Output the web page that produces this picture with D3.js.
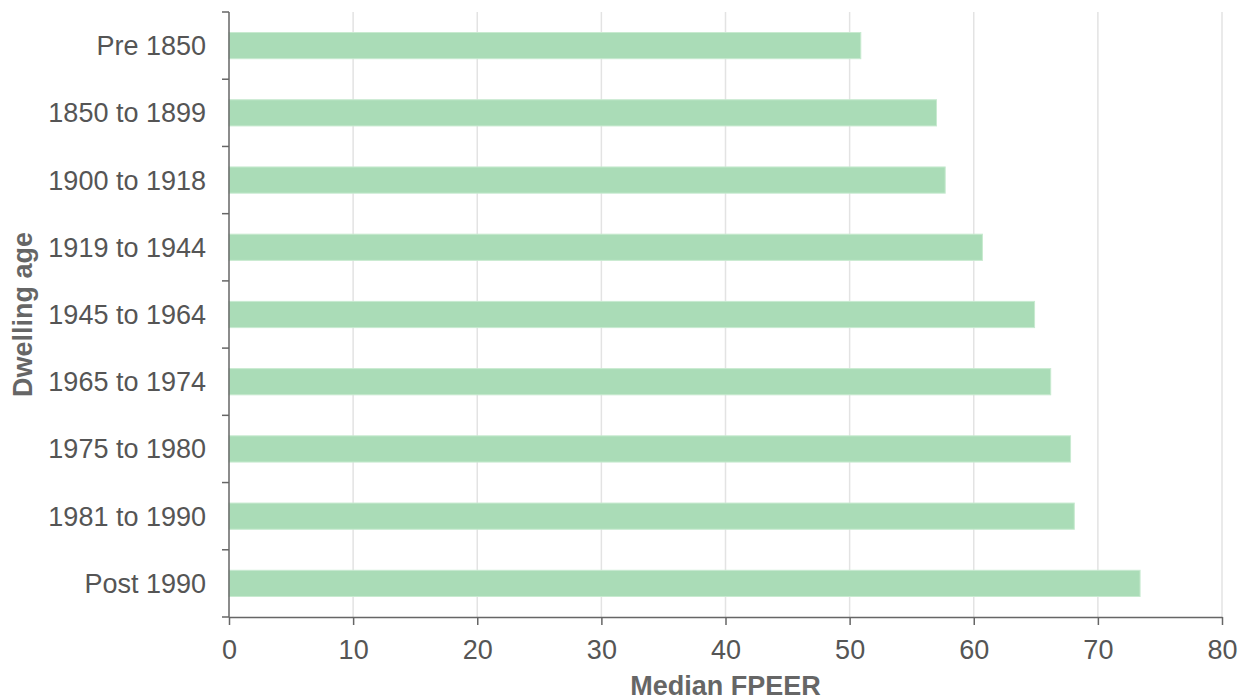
<!DOCTYPE html>
<html><head><meta charset="utf-8">
<script src="https://cdn.jsdelivr.net/npm/d3@7"></script>
<style>body{margin:0;background:#fff}svg{display:block}</style>
</head><body><svg id="c" width="1250" height="700"></svg>
<script>
const categories = ["Pre 1850","1850 to 1899","1900 to 1918","1919 to 1944","1945 to 1964","1965 to 1974","1975 to 1980","1981 to 1990","Post 1990"];
const values = [50.9, 57.0, 57.7, 60.7, 64.9, 66.2, 67.8, 68.1, 73.4];
const xTicks = [0,10,20,30,40,50,60,70,80];
const xTitle = "Median FPEER";
const yTitle = "Dwelling age";

const svg = d3.select("#c");
const m = {l:229, r:28, t:12, b:83};
const W = 1250, H = 700;
const x = d3.scaleLinear().domain([0,80]).range([m.l, W-m.r]);
const y = d3.scaleBand().domain(categories).range([m.t, H-m.b]).paddingInner(0.61).paddingOuter(0.305);
const font = "'Liberation Sans', Arial, sans-serif";
const fs = 27;

// gridlines
svg.append("g").selectAll("line").data(xTicks.slice(1)).join("line")
  .attr("x1", d=>x(d)).attr("x2", d=>x(d)).attr("y1", m.t).attr("y2", H-m.b)
  .attr("stroke", "#e3e3e3").attr("stroke-width", 1.5);

// bars
svg.append("g").selectAll("rect").data(values).join("rect")
  .attr("x", x(0)).attr("y", (d,i)=>y(categories[i]))
  .attr("width", d=>x(d)-x(0)).attr("height", y.bandwidth())
  .attr("fill", "#aadcb7").attr("stroke", "#c8ead0").attr("stroke-width", 1);

// x axis
const xa = svg.append("g").attr("transform", `translate(0,${H-m.b})`)
  .call(d3.axisBottom(x).tickValues(xTicks).tickSize(8).tickSizeOuter(0).tickPadding(15));
xa.select(".domain").attr("stroke", "#666").attr("stroke-width", 1.5);
xa.selectAll(".tick line").attr("stroke", "#666").attr("stroke-width", 1.5);
xa.selectAll("text").attr("font-family", font).attr("font-size", fs).attr("fill", "#555");

// y axis: ticks at category boundaries
const ya = svg.append("g").attr("transform", `translate(${m.l},0)`);
ya.append("line").attr("x1",0).attr("x2",0).attr("y1",m.t).attr("y2",H-m.b).attr("stroke","#666").attr("stroke-width",1.5);
const bounds = d3.range(categories.length+1).map(i => m.t + i*y.step());
ya.selectAll(".bt").data(bounds).join("line").attr("class","bt")
  .attr("x1",-7).attr("x2",0).attr("y1",d=>d).attr("y2",d=>d).attr("stroke","#666").attr("stroke-width",1.5);
ya.selectAll("text").data(categories).join("text")
  .attr("x", -23).attr("y", d=>y(d)+y.bandwidth()/2).attr("dy","0.35em")
  .attr("text-anchor","end").attr("font-family",font).attr("font-size",fs).attr("fill","#555").text(d=>d);

// titles
svg.append("text").attr("x", x(40)).attr("y", 695).attr("text-anchor","middle")
  .attr("font-family",font).attr("font-weight","bold").attr("font-size",27).attr("fill","#666").text(xTitle);
svg.append("text").attr("transform", `translate(32,${(m.t+H-m.b)/2}) rotate(-90)`).attr("text-anchor","middle")
  .attr("font-family",font).attr("font-weight","bold").attr("font-size",27).attr("fill","#666").text(yTitle);
</script></body></html>
